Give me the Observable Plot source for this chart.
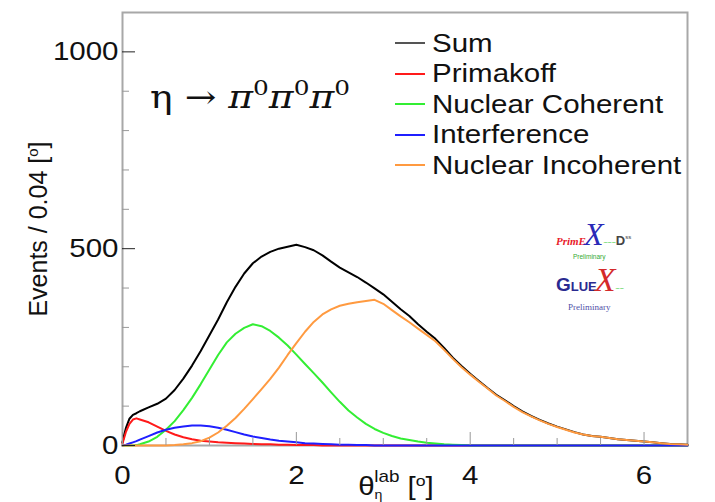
<!DOCTYPE html>
<html><head><meta charset="utf-8">
<script src="https://cdn.jsdelivr.net/npm/d3@7"></script>
<script src="https://cdn.jsdelivr.net/npm/@observablehq/plot@0.6"></script>
<style>
html,body{margin:0;padding:0;background:#fff;}
#wrap{position:relative;width:715px;height:502px;font-family:"Liberation Sans",Arial,sans-serif;color:#111;}
.ov{position:absolute;white-space:nowrap;line-height:1;}
.leg{position:absolute;left:432px;font-size:25px;transform:scaleX(1.18);transform-origin:0 50%;white-space:nowrap;}
.legline{position:absolute;left:395px;width:30px;height:2px;}
</style></head><body><div id="wrap"></div>
<script>
// ---- data ----
const theta = [0,0.04,0.08,0.12,0.16,0.2,0.3,0.4,0.5,0.6,0.7,0.8,0.9,1.0,1.1,1.2,1.3,1.4,1.5,1.6,1.7,1.8,1.9,2.0,2.1,2.2,2.3,2.4,2.5,2.6,2.7,2.8,2.9,3.0,3.1,3.2,3.3,3.4,3.5,3.6,3.7,3.8,3.9,4.0,4.1,4.2,4.3,4.4,4.5,4.6,4.7,4.8,4.9,5.0,5.1,5.2,5.3,5.4,5.5,5.6,5.7,5.8,5.9,6.0,6.1,6.2,6.3,6.4,6.5];
const sumEvents = [8,45,68,78,82,87,97,106,119,141,170,203,240,280,320,364,403,437,463,480,492,500,505,510,504,496,483,467,452,440,428,414,399,384,365,346,329,308,289,271,248,223,202,182,164,146,129,115,100,87,75,65,56,48,41,34,28,24,22,19,16,14,12,10,8,6,4,3,2];
const primakoff = [5,35,55,66,69,66,59,48,37,28,21,16,12,10,8,7,6,5,4,3,3,2,2,1,1,1,0,0,0,0,0,0,0,0,0,0,0,0,0,0,0,0,0,0,0,0,0,0,0,0,0,0,0,0,0,0,0,0,0,0,0,0,0,0,0,0,0,0,0];
const nuclearCoherent = [0,0,0,0,1,3,10,22,40,62,90,121,156,193,230,262,284,299,308,303,291,274,254,231,207,184,160,135,111,89,71,55,42,32,24,18,14,10,7,5,3,2,1,0,0,0,0,0,0,0,0,0,0,0,0,0,0,0,0,0,0,0,0,0,0,0,0,0,0];
const interference = [0,2,5,8,11,15,24,33,40,45,48,51,51,49,45,40,34,28,23,19,15,12,10,8,6,5,4,3,2,2,1,1,0,0,0,0,0,0,0,0,0,0,0,0,0,0,0,0,0,0,0,0,0,0,0,0,0,0,0,0,0,0,0,0,0,0,0,0,0];
const nuclearIncoherent = [0,0,0,0,0,0,0,0,0,1,3,6,11,20,33,50,70,93,118,143,169,198,230,260,289,314,333,346,355,360,364,367,370,360,344,328,313,297,281,265,243,220,199,180,162,145,127,113,98,85,74,64,55,47,40,33,28,24,22,19,16,14,12,10,8,6,4,3,2];
const seriesNames = ["Sum","Primakoff","Nuclear Coherent","Interference","Nuclear Incoherent"];
const seriesColors = ["#000000","#ff1a1a","#33ee33","#1f1fff","#ff9a40"];
const seriesValues = [sumEvents, primakoff, nuclearCoherent, interference, nuclearIncoherent];
const yMajor = [0,500,1000];
const yMinor = [100,200,300,400,600,700,800,900];
const xMajor = [0,2,4,6];
const xMinor = [0.5,1,1.5,2.5,3,3.5,4.5,5,5.5];

const plot = Plot.plot({
  width: 715, height: 502,
  marginLeft: 122, marginRight: 28, marginTop: 12, marginBottom: 57,
  x: {domain: [0, 6.5]},
  y: {domain: [0, 1100]},
  style: {fontFamily: "Liberation Sans, Arial, sans-serif", background: "#fff", color: "#111", overflow: "visible"},
  marks: [
    Plot.frame({stroke: "#a8a8a8", strokeWidth: 2}),
    ...seriesValues.map((vals, k) => Plot.lineY(vals, {x: theta, y: vals, stroke: seriesColors[k], strokeWidth: 2})),
    Plot.axisY(yMinor, {tickSize: -7, stroke: "#999", tickFormat: () => "", label: null}),
    Plot.axisY(yMajor, {tickSize: -13, tickPadding: 17, fontSize: 25, stroke: "#222", tickFormat: d3.format("d"), label: "Events / 0.04 [°]", labelAnchor: "center", labelOffset: 93, labelArrow: "none"}),
    Plot.axisX(xMinor, {tickSize: -7, stroke: "#999", tickFormat: () => "", label: null}),
    Plot.axisX(xMajor, {tickSize: -13, tickPadding: 34, fontSize: 25, stroke: "#999", tickFormat: d3.format("d"), label: "θ", labelAnchor: "center", labelOffset: 49, labelArrow: "none"})
  ]
});
const wrap = document.getElementById("wrap");
wrap.appendChild(plot);

const NS = "http://www.w3.org/2000/svg";
function addT(parent, txt, attrs) {
  const ts = document.createElementNS(NS, "tspan");
  ts.textContent = txt;
  for (const k in attrs) ts.setAttribute(k, attrs[k]);
  parent.appendChild(ts);
  return ts;
}
// x-axis title with sub/superscripts
const xl = plot.querySelector('g[aria-label="x-axis label"] text');
if (xl) {
  xl.textContent = "";
  addT(xl, "θ", {});
  addT(xl, "η", {"font-size": 12, dy: 4});
  addT(xl, "lab", {"font-size": 16, dx: -7, dy: -17});
  addT(xl, " [", {dy: 13});
  addT(xl, "o", {"font-size": 15, dy: -9});
  addT(xl, "]", {dy: 9});
  xl.setAttribute("transform", (xl.getAttribute("transform") || "") + " translate(-9,0)");
}
const yl = plot.querySelector('g[aria-label="y-axis label"] text');
if (yl) {
  yl.textContent = "";
  addT(yl, "Events / 0.04 [", {});
  addT(yl, "o", {"font-size": 15, dy: -9});
  addT(yl, "]", {dy: 9});
}
plot.querySelectorAll('g[aria-label="y-axis tick label"] text, g[aria-label="x-axis tick label"] text, g[aria-label="x-axis label"] text').forEach(t => {
  t.setAttribute("transform", (t.getAttribute("transform") || "") + " scale(1.18,1)");
});

// legend
const rowsY = [43, 73.5, 104, 134.5, 165];
seriesNames.forEach((name, i) => {
  const ln = document.createElement("div");
  ln.className = "legline";
  ln.style.top = (rowsY[i] - 1) + "px";
  ln.style.background = i === 0 ? "#555" : seriesColors[i];
  wrap.appendChild(ln);
  const tx = document.createElement("div");
  tx.className = "leg";
  tx.textContent = name;
  tx.style.top = (rowsY[i] - 14.5) + "px";
  wrap.appendChild(tx);
});

// title
const title = document.createElement("div");
title.className = "ov";
title.style.cssText = "left:150px;top:78px;font-family:'DejaVu Serif',serif;font-size:32px;transform:scaleX(1.18);transform-origin:0 50%;";
title.innerHTML = "η → <i>π</i><sup style='font-size:21px;vertical-align:13px'>0</sup><i>π</i><sup style='font-size:21px;vertical-align:13px'>0</sup><i>π</i><sup style='font-size:21px;vertical-align:13px'>0</sup>";
wrap.appendChild(title);

// logos
const logo1 = document.createElement("div");
logo1.className = "ov";
logo1.style.cssText = "left:556px;top:219px;height:30px;line-height:30px;";
logo1.innerHTML = "<span style='color:#e8202a;font:italic bold 11px \"Liberation Serif\",serif;'>PrimE</span><span style='color:#2a2ab8;font:italic 32px/30px \"Liberation Serif\",serif;margin-left:-2px;'>X</span><span style='color:#3c3;font-size:7px;'>~~~</span><span style='color:#444;font:bold 13px \"Liberation Sans\",sans-serif;'>D</span><sup style='font-size:6px;color:#444;'>ss</sup>";
wrap.appendChild(logo1);
const pre1 = document.createElement("div");
pre1.className = "ov";
pre1.style.cssText = "left:573px;top:254px;font-size:6.5px;color:#3a3;";
pre1.textContent = "Preliminary";
wrap.appendChild(pre1);
const logo2 = document.createElement("div");
logo2.className = "ov";
logo2.style.cssText = "left:556px;top:264px;height:32px;line-height:32px;";
logo2.innerHTML = "<span style='color:#2a2a90;font:bold 19px \"Liberation Sans\",sans-serif;'>G</span><span style='color:#2a2a90;font:bold 13px \"Liberation Sans\",sans-serif;'>LUE</span><span style='color:#d42a2a;font:italic 34px/32px \"Liberation Serif\",serif;margin-left:-2px;'>X</span><span style='color:#3c3;font-size:7px;'>~~</span>";
wrap.appendChild(logo2);
const pre2 = document.createElement("div");
pre2.className = "ov";
pre2.style.cssText = "left:568px;top:302px;font:9px 'Liberation Serif',serif;color:#5050a8;";
pre2.textContent = "Preliminary";
wrap.appendChild(pre2);
</script></body></html>
